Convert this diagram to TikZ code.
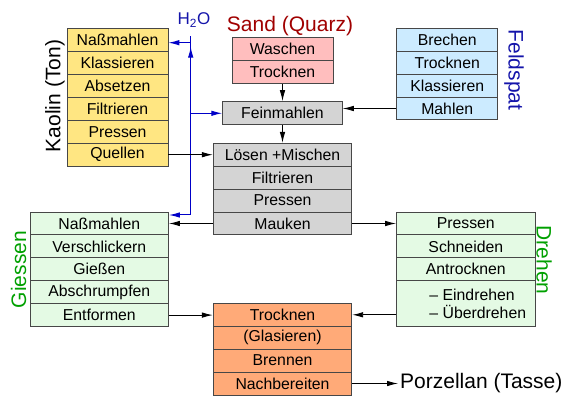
\documentclass[tikz,border=0pt]{standalone}
\usepackage{fontspec}
\setmainfont{Liberation Sans}
\usetikzlibrary{arrows.meta,positioning,calc}

\newcommand{\cellfont}{\fontsize{15.8}{18.4}\selectfont}
\newcommand{\titlefont}{\fontsize{21}{24}\selectfont}

\begin{document}
\begin{tikzpicture}[x=1pt, y=-1pt, >={Latex[length=11pt,width=5.5pt]},
        every node/.style={font=\cellfont, inner sep=0pt},
        cell/.style={draw=black!72, line width=0.9pt, minimum height=22.9pt, align=center},
        narrow/.style={cell, minimum width=101pt},
        wide/.style={cell, minimum width=138.4pt},
        flow/.style={->, line width=0.9pt, black},
        water/.style={->, line width=1pt, waterblue}]
        \definecolor{kaolinyellow}{RGB}{255,230,130}
        \definecolor{sandpink}{RGB}{255,190,190}
        \definecolor{feingray}{RGB}{212,212,212}
        \definecolor{feldblue}{RGB}{204,235,255}
        \definecolor{formgreen}{RGB}{228,250,228}
        \definecolor{brennorange}{RGB}{255,170,120}
        \definecolor{labelred}{RGB}{160,0,0}
        \definecolor{labelblue}{RGB}{20,20,170}
        \definecolor{labelgreen}{RGB}{0,160,0}
        \definecolor{waterblue}{RGB}{0,0,200}

        \useasboundingbox (0,0) rectangle (567,403);

        % Kaolin (Ton)
        \node[narrow, fill=kaolinyellow] (knass) at (117.5,40.2) {Naßmahlen};
        \node[narrow, fill=kaolinyellow] (kklass) at (117.5,63.1) {Klassieren};
        \node[narrow, fill=kaolinyellow] (kabsetz) at (117.5,86.0) {Absetzen};
        \node[narrow, fill=kaolinyellow] (kfilt) at (117.5,108.9) {Filtrieren};
        \node[narrow, fill=kaolinyellow] (kpress) at (117.5,131.8) {Pressen};
        \node[narrow, fill=kaolinyellow] (kquell) at (117.5,154.7) {Quellen};
        \node[font=\titlefont, rotate=90] (kaolin) at (55,96) {Kaolin (Ton)};

        % Sand (Quarz)
        \node[narrow, fill=sandpink] (swasch) at (282.5,49.2) {Waschen};
        \node[narrow, fill=sandpink] (strock) at (282.5,72.1) {Trocknen};
        \node[font=\titlefont, text=labelred] (sand) at (290,26) {Sand (Quarz)};

        % Feinmahlen
        \node[cell, fill=feingray, minimum width=119.6pt, minimum height=23.3pt] (fein) at (282.5,113.3) {Feinmahlen};

        % Feldspat
        \node[narrow, fill=feldblue] (fbrech) at (447.2,39.8) {Brechen};
        \node[narrow, fill=feldblue] (ftrock) at (447.2,62.7) {Trocknen};
        \node[narrow, fill=feldblue] (fklass) at (447.2,85.6) {Klassieren};
        \node[narrow, fill=feldblue] (fmahl) at (447.2,108.5) {Mahlen};
        \node[font=\titlefont, text=labelblue, rotate=-90] (feldspat) at (514,70) {Feldspat};

        % Masse
        \node[wide, fill=feingray] (loesen) at (282.5,154.8) {Lösen +Mischen};
        \node[wide, fill=feingray] (mfilt) at (282.5,177.7) {Filtrieren};
        \node[wide, fill=feingray] (mpress) at (282.5,200.6) {Pressen};
        \node[wide, fill=feingray] (mauken) at (282.5,223.5) {Mauken};

        % Giessen
        \node[wide, fill=formgreen] (gnass) at (99.3,223.5) {Naßmahlen};
        \node[wide, fill=formgreen] (gverschl) at (99.3,246.4) {Verschlickern};
        \node[wide, fill=formgreen] (ggiess) at (99.3,269.3) {Gießen};
        \node[wide, fill=formgreen] (gschrumpf) at (99.3,292.2) {Abschrumpfen};
        \node[wide, fill=formgreen] (gentform) at (99.3,315.1) {Entformen};
        \node[font=\titlefont, text=labelgreen, rotate=90] (giessen) at (18.5,269.5) {Giessen};

        % Drehen
        \node[wide, fill=formgreen] (dpress) at (465.8,223.5) {Pressen};
        \node[wide, fill=formgreen] (dschneid) at (465.8,246.4) {Schneiden};
        \node[wide, fill=formgreen] (dantrock) at (465.8,269.3) {Antrocknen};
        \node[wide, fill=formgreen, minimum height=46pt, align=left] (ddreh) at (465.8,303.7)
            {\hspace*{24pt}-- Eindrehen\\\hspace*{24pt}-- Überdrehen};
        \node[font=\titlefont, text=labelgreen, rotate=-90] (drehen) at (544,260) {Drehen};

        % Brennen
        \node[wide, fill=brennorange] (btrock) at (282.5,314.8) {Trocknen};
        \node[wide, fill=brennorange] (bglas) at (282.5,337.7) {(Glasieren)};
        \node[wide, fill=brennorange] (bbrenn) at (282.5,360.6) {Brennen};
        \node[wide, fill=brennorange] (bnach) at (282.5,383.5) {Nachbereiten};
        \node[font=\titlefont, anchor=west, inner sep=2pt] (porzellan) at (398,383.5) {Porzellan (Tasse)};

        % Wasser
        \node[font=\fontsize{17}{20}\selectfont, text=labelblue] (h2o) at (194,20) {H\textsubscript{2}O};
        \coordinate (wtop) at (190.7,42.7);
        \coordinate (wbot) at (190.7,215);
        \draw[water] (wtop) -- (wbot) -- (wbot -| gnass.east);
        \draw[water] (wtop) -- (wtop -| knass.east);
        \draw[water] ($(wtop)+(0,4)$) -- ($(wtop)+(0,4)$ -| swasch.west);
        \draw[water] (wtop |- fein.west) -- (fein.west);

        % Materialfluss
        \draw[flow] (kquell.east) -- (kquell.east -| loesen.west);
        \draw[flow] (strock.south) -- (fein.north);
        \draw[flow] (fmahl.west) -- (fmahl.west -| fein.east);
        \draw[flow] (fein.south) -- (loesen.north);
        \draw[flow] (mauken.west) -- (gnass.east |- mauken.west);
        \draw[flow] (mauken.east) -- (dpress.west);
        \draw[flow] (gentform.east) -- (gentform.east -| btrock.west);
        \draw[flow] (ddreh.west |- btrock.east) -- (btrock.east);
        \draw[flow] (bnach.east) -- (porzellan.west);
    \end{tikzpicture}
\end{document}
